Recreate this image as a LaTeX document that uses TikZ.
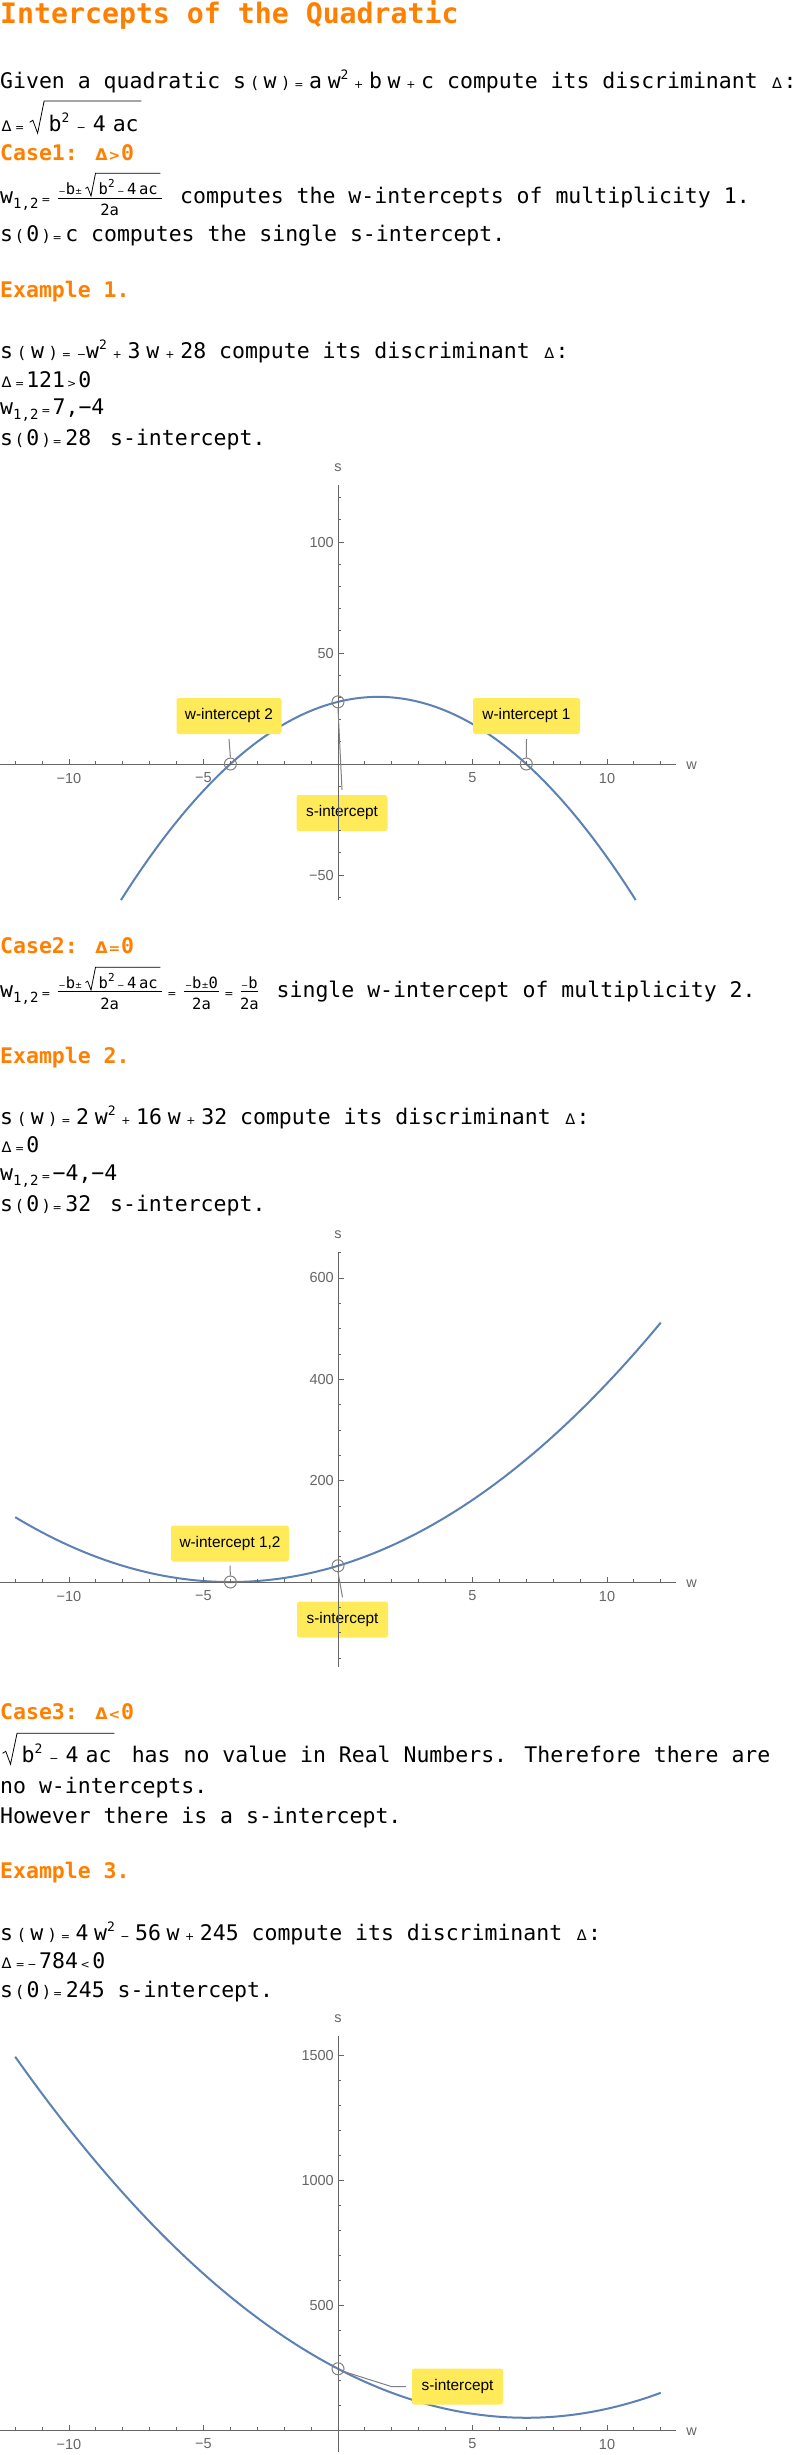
\documentclass[tikz,border=0pt]{standalone}
\usepackage{fontspec}
\usetikzlibrary{calc}
\newfontfamily\monof{DejaVu Sans Mono}
\newfontfamily\opf{DejaVu Sans}
\newfontfamily\lsans{Liberation Sans}
\definecolor{hdorange}{RGB}{255,128,0}
\definecolor{curveblue}{RGB}{94,129,181}
\definecolor{callyellow}{RGB}{255,234,89}
\definecolor{axisgray}{RGB}{102,102,102}
\definecolor{markgray}{RGB}{128,128,128}
\newcommand\bodyfont{\monof\fontsize{21.5}{26}\selectfont}
\newcommand\op[1]{{\opf\fontsize{11}{11}\selectfont #1}}
\newcommand\ops[1]{{\opf\fontsize{8.5}{9}\selectfont #1}}
\newcommand\pa[1]{{\opf\fontsize{16}{16}\selectfont #1}}
\newcommand\sups[1]{\raisebox{9pt}{\monof\fontsize{13}{13}\selectfont #1}}
\newcommand\supn[1]{\raisebox{7pt}{\monof\fontsize{11}{11}\selectfont #1}}
\newcommand\subs[1]{\raisebox{-5pt}{\monof\fontsize{14}{14}\selectfont #1}}
\newcommand\mch[2]{\makebox[#1pt][s]{#2}}
\newcommand\tri{\makebox[12.94pt]{\opf\fontsize{14.5}{15}\selectfont Δ}}
\newcommand\tribf{\makebox[12.94pt]{\opf\bfseries\fontsize{16}{16}\selectfont Δ}}
\newcommand\opbf[1]{\makebox[12.94pt]{\opf\bfseries\fontsize{14}{14}\selectfont #1}}
\newcommand\radicalto[3]{\draw[radline] ($(#1.base west)+(-13*#3,-6*#3)$) -- ++(2.2*#3,-1.4*#3) -- ($(#1.base west)+(-7.5*#3,1.5*#3)$) -- ($(#1.base west)+(-3*#3,-#2)$) -- ($(#1.base east)+(2.5,-#2)$);}
\tikzset{
 txt/.style={anchor=base west, inner sep=0pt, font=\bodyfont},
 hd/.style={txt, font=\bodyfont\bfseries, text=hdorange},
 ttl/.style={anchor=base west, inner sep=0pt, font=\monof\bfseries\fontsize{28.2}{34}\selectfont, text=hdorange},
 numf/.style={anchor=base west, inner sep=0pt, font=\monof\fontsize{15.5}{18}\selectfont},
 fracbar/.style={line width=0.8pt},
 radline/.style={line width=0.8pt, line join=miter},
 qcurve/.style={curveblue, line width=2pt},
 axisl/.style={axisgray, line width=0.9pt},
 ticklab/.style={inner sep=0pt, text=axisgray, font=\lsans\fontsize{14.5}{15}\selectfont},
 axlab/.style={ticklab},
 mk/.style={circle, draw=markgray, line width=1pt, minimum size=12pt, inner sep=0pt},
 leader/.style={markgray, line width=1pt},
 callout/.style={fill=callyellow, rounded corners=2.5pt, minimum height=36pt, inner xsep=0pt, font=\lsans\fontsize{15.4}{17}\selectfont, text=black},
}
\begin{document}
\begin{tikzpicture}[x=1pt, y=-1pt]
\useasboundingbox (0,0) rectangle (796,2455);
\fill[white] (0,0) rectangle (796,2455);

% ---------- text: intro ----------
\node[ttl] (title) at (0,23) {Intercepts of the Quadratic};
\node[txt] (l1) at (0,88) {Given a quadratic \mch{201}{s\hfil\pa{(}\hfil w\hfil\pa{)}\hfil\op{=}\hfil a\hfil w\sups{2}\hfil\op{+}\hfil b\hfil w\hfil\op{+}\hfil c} compute its discriminant \tri:};
\node[txt] (l2a) at (0,131) {\tri\kern2pt\op{=}};
\node[txt] (l2r) at (48.5,131) {\mch{90}{b\sups{2}\hfil\op{−}\hfil 4\hfil ac}};
\radicalto{l2r}{30}{1.45}
\node[hd] (c1) at (0,160) {Case1: \tribf\opbf{>}0};
% fraction line 1
\node[txt] (l4w) at (0,203) {w\subs{1,2}\kern3pt\op{=}};
\draw[fracbar] (57.7,198.3) -- (161.7,198.3);
\node[numf] (l4n1) at (58.5,194.5) {\ops{−}b\ops{±}};
\node[numf] (l4n2) at (98.5,194.5) {\mch{59}{b\supn{2}\hfil\ops{−}\hfil4\hfil ac}};
\radicalto{l4n2}{21.2}{1}
\node[numf, anchor=base] (l4d) at (109.7,215) {2a};
\node[txt] (l4t) at (180,203) {computes the w-intercepts of multiplicity 1.};
\node[txt] (l5) at (0,241) {\mch{78}{s\hfil\pa{(}\hfil0\hfil\pa{)}\hfil\op{=}\hfil c} computes the single s-intercept.};

% ---------- example 1 ----------
\node[hd] (e1) at (0,297) {Example 1.};
\node[txt] (e1a) at (0,358) {\mch{206}{s\hfil\pa{(}\hfil w\hfil\pa{)}\hfil\op{=}\hfil\op{−}w\sups{2}\hfil\op{+}\hfil3\hfil w\hfil\op{+}\hfil28} compute its discriminant \tri:};
\node[txt] (e1b) at (0,387) {\mch{91}{\tri\hfil\op{=}\hfil121\hfil\op{>}\hfil0}};
\node[txt] (e1c) at (0,414) {w\subs{1,2}\kern3pt\op{=}\kern2pt 7,−4};
\node[txt] (e1d) at (0,445) {\mch{91}{s\hfil\pa{(}\hfil0\hfil\pa{)}\hfil\op{=}\hfil28}\kern6pt{} s-intercept.};

% ---------- plot 1 ----------
\begin{scope}[shift={(338,764)}, x=26.9pt, y=2.22pt]
 \draw[qcurve] plot[domain=-8.068:11.068, samples=120] (\x, {-(\x)*(\x)+3*(\x)+28});
\end{scope}
\node[callout, minimum width=105pt] (p1b1) at (229,716) {w-intercept 2};
\node[callout, minimum width=107pt] (p1b2) at (526.5,716) {w-intercept 1};
\node[callout, minimum width=91pt] (p1b3) at (342,813) {s-intercept};
\begin{scope}[shift={(338,764)}, x=26.9pt, y=2.22pt]
 \draw[axisl] (-12.55,0) -- (12.55,0);
 \draw[axisl] (0,-61.3) -- (0,125.6);
 \foreach \t in {-12,...,-1,1,2,...,12} \draw[axisl] (\t,0) -- ++(0,3pt);
 \foreach \t in {-10,-5,5,10} \draw[axisl] (\t,0) -- ++(0,5.5pt);
 \foreach \t in {-60,-50,...,120} \draw[axisl] (0,\t) -- ++(3pt,0);
 \foreach \t in {-50,50,100} \draw[axisl] (0,\t) -- ++(5.5pt,0);
 \foreach \t/\l in {-10/−10,-5/−5,5/5,10/10} \node[ticklab, yshift=-14pt] (p1x\t) at (\t,0) {\l};
 \foreach \t/\l in {-50/−50,50/50,100/100} \node[ticklab, anchor=east, xshift=-4pt] (p1y\t) at (0,\t) {\l};
 \node[axlab, yshift=17pt] (p1ls) at (0,125.6) {s};
 \node[axlab, xshift=16pt, yshift=-2pt] (p1lw) at (12.55,0) {w};
 \node[mk] (p1c1) at (-4,0) {};
 \node[mk] (p1c2) at (7,0) {};
 \node[mk] (p1c3) at (0,28) {};
\end{scope}
\draw[leader] ([yshift=-5pt]p1b1.south) -- (p1c1.north);
\draw[leader] ([yshift=-5pt]p1b2.south) -- (p1c2.north);
\draw[leader] (p1c3.south) -- ([yshift=5pt]p1b3.north);

% ---------- case 2 ----------
\node[hd] (c2) at (0,953) {Case2: \tribf\opbf{=}0};
\node[txt] (l7w) at (0,997) {w\subs{1,2}\kern3pt\op{=}};
\draw[fracbar] (57.7,991.7) -- (161.7,991.7);
\node[numf] (l7n1) at (58.5,988.5) {\ops{−}b\ops{±}};
\node[numf] (l7n2) at (98.5,988.5) {\mch{59}{b\supn{2}\hfil\ops{−}\hfil4\hfil ac}};
\radicalto{l7n2}{21.2}{1}
\node[numf, anchor=base] (l7d1) at (109.7,1009) {2a};
\node[txt, anchor=base] (l7e1) at (172,997) {\op{=}};
\draw[fracbar] (183.7,991.7) -- (219.4,991.7);
\node[numf, anchor=base] (l7n3) at (201.5,988.5) {\ops{−}b\ops{±}0};
\node[numf, anchor=base] (l7d2) at (201.5,1009) {2a};
\node[txt, anchor=base] (l7e2) at (229,997) {\op{=}};
\draw[fracbar] (240.8,991.7) -- (258,991.7);
\node[numf, anchor=base] (l7n4) at (249.4,988.5) {\ops{−}b};
\node[numf, anchor=base] (l7d3) at (249.4,1009) {2a};
\node[txt] (l7t) at (276.5,997) {single w-intercept of multiplicity 2.};

% ---------- example 2 ----------
\node[hd] (e2) at (0,1063) {Example 2.};
\node[txt] (e2a) at (0,1124) {\mch{227}{s\hfil\pa{(}\hfil w\hfil\pa{)}\hfil\op{=}\hfil2\hfil w\sups{2}\hfil\op{+}\hfil16\hfil w\hfil\op{+}\hfil32} compute its discriminant \tri:};
\node[txt] (e2b) at (0,1152) {\mch{39}{\tri\hfil\op{=}\hfil0}};
\node[txt] (e2c) at (0,1180) {w\subs{1,2}\kern3pt\op{=}\kern2pt −4,−4};
\node[txt] (e2d) at (0,1211) {\mch{91}{s\hfil\pa{(}\hfil0\hfil\pa{)}\hfil\op{=}\hfil32}\kern6pt{} s-intercept.};

% ---------- plot 2 ----------
\begin{scope}[shift={(338,1582)}, x=26.9pt, y=0.5067pt]
 \draw[qcurve] plot[domain=-12:12, samples=120] (\x, {2*(\x)*(\x)+16*(\x)+32});
\end{scope}
\node[callout, minimum width=118pt] (p2b1) at (230,1543.5) {w-intercept 1,2};
\node[callout, minimum width=91pt] (p2b2) at (342.5,1619.5) {s-intercept};
\begin{scope}[shift={(338,1582)}, x=26.9pt, y=0.5067pt]
 \draw[axisl] (-12.55,0) -- (12.55,0);
 \draw[axisl] (0,-167) -- (0,652);
 \foreach \t in {-12,...,-1,1,2,...,12} \draw[axisl] (\t,0) -- ++(0,3pt);
 \foreach \t in {-10,-5,5,10} \draw[axisl] (\t,0) -- ++(0,5.5pt);
 \foreach \t in {-150,-100,-50,50,100,...,650} \draw[axisl] (0,\t) -- ++(3pt,0);
 \foreach \t in {200,400,600} \draw[axisl] (0,\t) -- ++(5.5pt,0);
 \foreach \t/\l in {-10/−10,-5/−5,5/5,10/10} \node[ticklab, yshift=-14pt] (p2x\t) at (\t,0) {\l};
 \foreach \t/\l in {200/200,400/400,600/600} \node[ticklab, anchor=east, xshift=-4pt] (p2y\t) at (0,\t) {\l};
 \node[axlab, yshift=17pt] (p2ls) at (0,652) {s};
 \node[axlab, xshift=16pt, yshift=-2pt] (p2lw) at (12.55,0) {w};
 \node[mk] (p2c1) at (-4,0) {};
 \node[mk] (p2c2) at (0,32) {};
\end{scope}
\draw[leader] ([yshift=-4pt]p2b1.south) -- (p2c1.north);
\draw[leader] (p2c2.south) -- ([yshift=4pt]p2b2.north);

% ---------- case 3 ----------
\node[hd] (c3) at (0,1719) {Case3: \tribf\opbf{<}0};
\node[txt] (l9r) at (21.4,1762) {\mch{90}{b\sups{2}\hfil\op{−}\hfil 4\hfil ac}};
\radicalto{l9r}{28.7}{1.45}
\node[txt] (l9t) at (131.6,1762) {has no value in Real Numbers. Therefore there are};
\node[txt] (l10) at (0,1793) {no w-intercepts.};
\node[txt] (l11) at (0,1823) {However there is a s-intercept.};

% ---------- example 3 ----------
\node[hd] (e3) at (0,1878) {Example 3.};
\node[txt] (e3a) at (0,1940) {\mch{238.5}{s\hfil\pa{(}\hfil w\hfil\pa{)}\hfil\op{=}\hfil4\hfil w\sups{2}\hfil\op{−}\hfil56\hfil w\hfil\op{+}\hfil245} compute its discriminant \tri:};
\node[txt] (e3b) at (0,1968) {\mch{105}{\tri\hfil\op{=}\hfil\op{−}\hfil784\hfil\op{<}\hfil0}};
\node[txt] (e3c) at (0,1997) {\mch{104.6}{s\hfil\pa{(}\hfil0\hfil\pa{)}\hfil\op{=}\hfil245} s-intercept.};

% ---------- plot 3 ----------
\begin{scope}[shift={(338,2430)}, x=26.9pt, y=0.25pt]
 \draw[qcurve] plot[domain=-12:12, samples=120] (\x, {4*(\x)*(\x)-56*(\x)+245});
\end{scope}
\node[callout, minimum width=91pt] (p3b1) at (457.5,2386.5) {s-intercept};
\begin{scope}[shift={(338,2430)}, x=26.9pt, y=0.25pt]
 \draw[axisl] (-12.55,0) -- (12.55,0);
 \draw[axisl] (0,-87) -- (0,1576);
 \foreach \t in {-12,...,-1,1,2,...,12} \draw[axisl] (\t,0) -- ++(0,3pt);
 \foreach \t in {-10,-5,5,10} \draw[axisl] (\t,0) -- ++(0,5.5pt);
 \foreach \t in {100,200,...,1500} \draw[axisl] (0,\t) -- ++(3pt,0);
 \foreach \t in {500,1000,1500} \draw[axisl] (0,\t) -- ++(5.5pt,0);
 \foreach \t/\l in {-10/−10,-5/−5,5/5,10/10} \node[ticklab, yshift=-14pt] (p3x\t) at (\t,0) {\l};
 \foreach \t/\l in {500/500,1000/1000,1500/1500} \node[ticklab, anchor=east, xshift=-4pt] (p3y\t) at (0,\t) {\l};
 \node[axlab, yshift=17pt] (p3ls) at (0,1576) {s};
 \node[axlab, xshift=16pt, yshift=-2pt] (p3lw) at (12.55,0) {w};
 \node[mk] (p3c1) at (0,245) {};
\end{scope}
\coordinate (p3k) at (392,2386.7);
\draw[leader] (p3c1.-25) -- (p3k) -- ([xshift=-6pt]p3b1.west);
\end{tikzpicture}
\end{document}
